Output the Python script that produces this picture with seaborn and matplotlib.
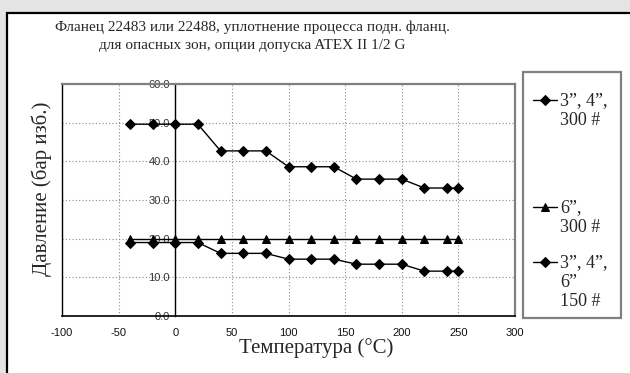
import matplotlib
matplotlib.use("Agg")
import matplotlib.pyplot as plt
import matplotlib.patches as mpatches
import numpy as np
import pandas as pd
import seaborn as sns

# ---- data ----
temps = [-40, -20, 0, 20, 40, 60, 80, 100, 120, 140, 160, 180, 200, 220, 240, 250]
p_300_small = [49.6, 49.6, 49.6, 49.6, 42.7, 42.7, 42.7, 38.6, 38.6, 38.6, 35.4, 35.4, 35.4, 33.1, 33.1, 33.1]
p_300_six = [19.8] * 16
p_150 = [19.0, 19.0, 19.0, 19.0, 16.2, 16.2, 16.2, 14.7, 14.7, 14.7, 13.4, 13.4, 13.4, 11.6, 11.6, 11.6]
series_names = ["3”, 4”,\n300 #", "6”,\n300 #", "3”, 4”,\n6”\n150 #"]
x_ticks = [-100, -50, 0, 50, 100, 150, 200, 250, 300]
y_ticks = [0, 10, 20, 30, 40, 50, 60]
title = "Фланец 22483 или 22488, уплотнение процесса подн. фланц.\nдля опасных зон, опции допуска ATEX II 1/2 G"
xlabel = "Температура (°C)"
ylabel = "Давление (бар изб.)"

df = pd.DataFrame({
    "T": temps * 3,
    "P": p_300_small + p_300_six + p_150,
    "series": [series_names[0]] * len(temps) + [series_names[1]] * len(temps) + [series_names[2]] * len(temps),
})

sns.set_style("white")
SERIF = ["Liberation Serif", "DejaVu Serif"]
SANS = ["Liberation Sans", "DejaVu Sans"]
plt.rcParams["font.family"] = SANS

W, H = 630, 373
fig = plt.figure(figsize=(W / 100, H / 100), dpi=100)
fig.patch.set_facecolor("#e4e4e4")

def fx(px):
    return px / W

def fy(py):
    return 1 - py / H

# white panel with black border
panel = mpatches.Rectangle((fx(6.5), fy(390)), fx(640), (390 - 12.5) / H,
                           transform=fig.transFigure, facecolor="white",
                           edgecolor="black", linewidth=1.6, zorder=0)
fig.add_artist(panel)

ax = fig.add_axes([fx(62), fy(316), fx(515 - 62), (316 - 84) / H])
ax.set_facecolor("white")

sns.lineplot(data=df, x="T", y="P", style="series",
             markers={series_names[0]: "D", series_names[1]: "^", series_names[2]: "D"},
             dashes=False, color="black", linewidth=1.0, markersize=5, markeredgecolor="black",
             sort=False, legend=False, ax=ax, estimator=None)
lines = ax.get_lines()
lines[0].set_markersize(4.6)
lines[2].set_markersize(4.6)
lines[1].set_markersize(6)

ax.set_xlim(-100, 300)
ax.set_ylim(0, 60)
ax.set_xticks(x_ticks)
ax.set_yticks(y_ticks)
ax.set_xticklabels([str(v) for v in x_ticks])
ax.set_yticklabels([f"{v:.1f}" for v in y_ticks])

ax.grid(True, linestyle=(0, (1, 2)), color="#8a8a8a", linewidth=0.8)
ax.set_axisbelow(True)

ax.spines["left"].set_position(("data", 0))
ax.spines["left"].set_color("black")
ax.spines["left"].set_linewidth(1.0)
ax.spines["bottom"].set_color("black")
ax.spines["bottom"].set_linewidth(1.2)
ax.spines["top"].set_color("#808080")
ax.spines["top"].set_linewidth(1.6)
ax.spines["right"].set_color("#808080")
ax.spines["right"].set_linewidth(1.6)
# plot-area left border
ax.plot([0, 0], [0, 1], transform=ax.transAxes, color="black", linewidth=1.0, clip_on=False)

ax.tick_params(axis="y", direction="out", length=3, width=0.8, pad=1, labelsize=8, labelcolor="#333333", color="black")
ax.tick_params(axis="x", direction="in", length=3, width=0.8, pad=9, labelsize=8, labelcolor="#111111", color="black")
for lab in ax.get_xticklabels() + ax.get_yticklabels():
    lab.set_family(SANS)

ax.set_xlabel(xlabel, fontsize=15, family=SERIF)
ax.set_ylabel(ylabel, fontsize=15, family=SERIF)
ax.xaxis.set_label_coords((316 - 62) / 453, -0.095)
ax.yaxis.set_label_coords((52 - 62) / 453, (316 - 189) / 232)

fig.text(fx(252), fy(21), title, ha="center", va="top", fontsize=11, family=SERIF, linespacing=1.45)

# legend box
lbox = mpatches.Rectangle((fx(523), fy(318)), fx(621 - 523), (318 - 72) / H,
                          transform=fig.transFigure, facecolor="white", edgecolor="#808080",
                          linewidth=1.6, zorder=1)
fig.add_artist(lbox)

tops = [92, 199, 254]
for i, (ln, name) in enumerate(zip(lines, series_names)):
    leg = fig.legend([ln], [name], loc="upper left", bbox_to_anchor=(fx(533), fy(tops[i])),
                     frameon=False, borderpad=0, borderaxespad=0, handlelength=1.33, handletextpad=0.17,
                     handleheight=1.2, prop={"family": SERIF, "size": 13})
    leg.set_zorder(3)
    for t in leg.get_texts():
        t.set_linespacing(1.2)
    for pk in leg._legend_handle_box.get_children():
        for item in pk.get_children():
            item.align = "top"

fig.savefig("out.png", dpi=100, facecolor=fig.get_facecolor())
